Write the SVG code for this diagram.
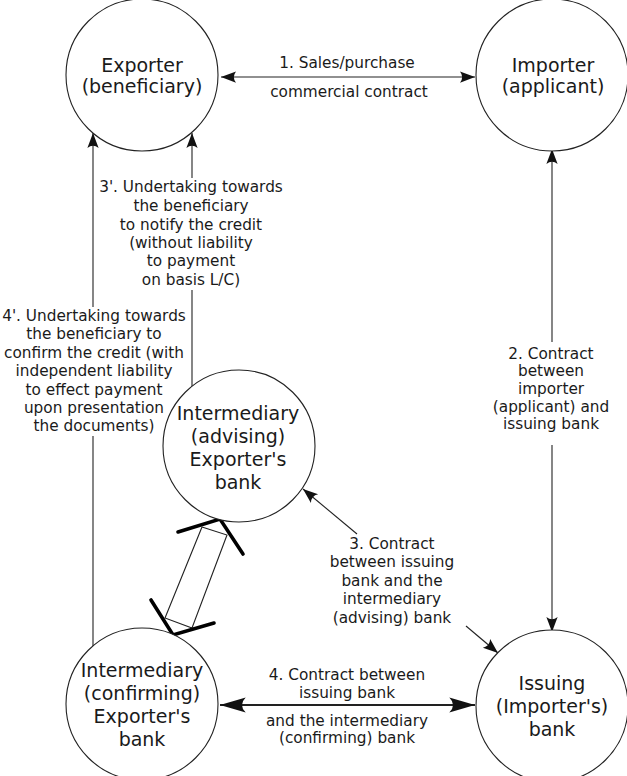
<svg xmlns="http://www.w3.org/2000/svg" width="627" height="776" viewBox="0 0 627 776">
<style>
  .node circle { fill: #fff; stroke: #222; stroke-width: 1.1; }
  .nt { font-family: "DejaVu Sans", "Liberation Sans", sans-serif; font-size: 19px; fill: #1a1a1a; text-anchor: middle; }
  .lt { font-family: "DejaVu Sans", "Liberation Sans", sans-serif; font-size: 15.3px; fill: #1a1a1a; text-anchor: middle; }
  .edge { fill: none; stroke: #222; stroke-width: 1.1; }
  .thick { stroke-width: 2; }
  .bold { fill: none; stroke: #000; stroke-width: 3.6; stroke-linecap: round; stroke-linejoin: miter; }
</style>
<defs>
  <marker id="arr" markerUnits="userSpaceOnUse" markerWidth="20" markerHeight="20" viewBox="-14 -7 16 14" refX="0" refY="0" orient="auto-start-reverse">
    <path d="M0,0 L-12,-4.5 Q-8.5,0 -12,4.5 Z" fill="#111"/>
  </marker>
  <marker id="arrBig" markerUnits="userSpaceOnUse" markerWidth="30" markerHeight="30" viewBox="-26 -10 28 20" refX="0" refY="0" orient="auto-start-reverse">
    <path d="M0,0 L-24,-7 Q-17,0 -24,7 Z" fill="#111"/>
  </marker>
</defs>

<g id="connectors">
  <!-- 1 -->
  <line class="edge" x1="221" y1="77" x2="475" y2="77" marker-start="url(#arr)" marker-end="url(#arr)"/>
  <!-- 2 -->
  <line class="edge" x1="552" y1="149" x2="552" y2="342" marker-start="url(#arr)"/>
  <line class="edge" x1="552" y1="445" x2="552" y2="632" marker-end="url(#arr)"/>
  <!-- 3' -->
  <line class="edge" x1="192" y1="133" x2="192" y2="178" marker-start="url(#arr)"/>
  <line class="edge" x1="192" y1="290" x2="192" y2="387"/>
  <!-- 4' -->
  <line class="edge" x1="93" y1="133" x2="93" y2="307" marker-start="url(#arr)"/>
  <line class="edge" x1="93" y1="436" x2="93" y2="646"/>
  <!-- 3 -->
  <line class="edge" x1="303" y1="489" x2="357" y2="534" marker-start="url(#arr)"/>
  <line class="edge" x1="466" y1="626" x2="498" y2="653" marker-end="url(#arr)"/>
  <!-- 4 -->
  <line class="edge thick" x1="220" y1="705" x2="475" y2="705" marker-start="url(#arrBig)" marker-end="url(#arrBig)"/>
  <!-- hollow double arrow between advising and confirming banks -->
  <g id="hollow-arrow">
    <polygon points="202,527 227,535 192,628 165,618" fill="none" stroke="#222" stroke-width="1.1"/>
    <polyline class="bold" points="178,532 220,519 243,554"/>
    <polyline class="bold" points="151,600 173,635 214,623"/>
  </g>
  <!-- labels -->
  <text class="lt" x="347" y="68">1. Sales/purchase</text>
  <text class="lt" x="349" y="97">commercial contract</text>
  <text class="lt" x="551"><tspan x="551" y="358.5">2. Contract</tspan><tspan x="551" y="376">between</tspan><tspan x="551" y="394">importer</tspan><tspan x="551" y="411.5">(applicant) and</tspan><tspan x="551" y="429">issuing bank</tspan></text>
  <text class="lt"><tspan x="191" y="192">3'. Undertaking towards</tspan><tspan x="191" y="211">the beneficiary</tspan><tspan x="191" y="229.5">to notify the credit</tspan><tspan x="191" y="248">(without liability</tspan><tspan x="191" y="266">to payment</tspan><tspan x="191" y="284.5">on basis L/C)</tspan></text>
  <text class="lt"><tspan x="94" y="321">4'. Undertaking towards</tspan><tspan x="94" y="339">the beneficiary to</tspan><tspan x="94" y="357.5">confirm the credit (with</tspan><tspan x="94" y="376">independent liability</tspan><tspan x="94" y="394.5">to effect payment</tspan><tspan x="94" y="413">upon presentation</tspan><tspan x="94" y="431">the documents)</tspan></text>
  <text class="lt"><tspan x="392" y="548.5">3. Contract</tspan><tspan x="392" y="567">between issuing</tspan><tspan x="392" y="585.5">bank and the</tspan><tspan x="392" y="604">intermediary</tspan><tspan x="392" y="622.5">(advising) bank</tspan></text>
  <text class="lt"><tspan x="347" y="680">4. Contract between</tspan><tspan x="347" y="697.5">issuing bank</tspan><tspan x="347" y="725.5">and the intermediary</tspan><tspan x="347" y="742.5">(confirming) bank</tspan></text>
</g>

<g id="exporter" class="node">
  <circle cx="142" cy="75" r="76"/>
  <text class="nt"><tspan x="142" y="72">Exporter</tspan><tspan x="142" y="93">(beneficiary)</tspan></text>
</g>
<g id="importer" class="node">
  <circle cx="552" cy="75" r="76"/>
  <text class="nt"><tspan x="553" y="72">Importer</tspan><tspan x="553" y="93">(applicant)</tspan></text>
</g>
<g id="advising" class="node">
  <circle cx="239" cy="446" r="76"/>
  <text class="nt"><tspan x="238" y="420">Intermediary</tspan><tspan x="238" y="443">(advising)</tspan><tspan x="238" y="466">Exporter's</tspan><tspan x="238" y="489">bank</tspan></text>
</g>
<g id="confirming" class="node">
  <circle cx="142" cy="704" r="76"/>
  <text class="nt"><tspan x="142" y="677">Intermediary</tspan><tspan x="142" y="700">(confirming)</tspan><tspan x="142" y="723">Exporter's</tspan><tspan x="142" y="746">bank</tspan></text>
</g>
<g id="issuing" class="node">
  <circle cx="552" cy="706" r="76"/>
  <text class="nt"><tspan x="552" y="690">Issuing</tspan><tspan x="552" y="713">(Importer's)</tspan><tspan x="552" y="736">bank</tspan></text>
</g>
</svg>
